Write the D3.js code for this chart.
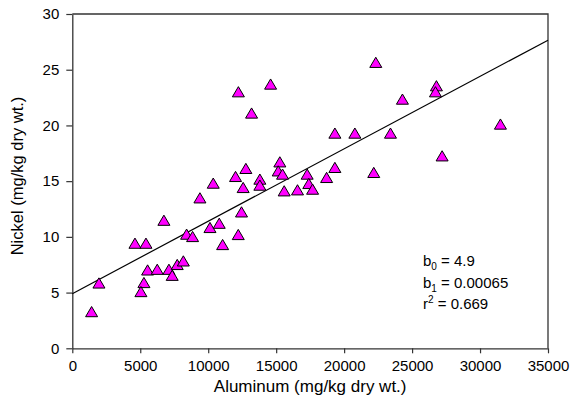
<!DOCTYPE html>
<html>
<head>
<meta charset="utf-8">
<script src="https://cdn.jsdelivr.net/npm/d3@7"></script>
<style>
  html, body { margin: 0; padding: 0; background: #fff; }
  svg { display: block; font-family: "Liberation Sans", Arial, sans-serif; }
</style>
</head>
<body>
<svg id="chart" width="578" height="417"></svg>
<script>
// Data (Aluminum vs Nickel, mg/kg dry wt.)
const aluminum = [
  12220, 14590, 13190, 15270, 12770, 12010, 13800, 15150, 15470, 10370,
  12570, 13800, 15590, 16570, 17280, 17400, 17680, 9390,
  22330, 26790, 26720, 24290, 31500, 19320, 20790, 23410, 27210, 19320,
  18710, 22180,
  6740, 12450, 10130, 10810, 8410, 8850, 11060, 12210, 4610, 5420,
  5540, 6250, 7110, 7350, 7720, 8170, 5270, 5050, 1960, 1420
];
const nickel = [
  22.96, 23.65, 21.05, 16.67, 16.08, 15.36, 15.12, 15.86, 15.57, 14.76,
  14.37, 14.58, 14.07, 14.16, 15.57, 14.73, 14.22, 13.44,
  25.6, 23.5, 22.96, 22.3, 20.06, 19.25, 19.25, 19.25, 17.21, 16.17,
  15.27, 15.72,
  11.43, 12.18, 10.78, 11.16, 10.18, 9.97, 9.25, 10.15, 9.37, 9.37,
  6.97, 7.03, 7.03, 6.49, 7.46, 7.78, 5.84, 5.03, 5.8, 3.23
];
const xTicks = [0, 5000, 10000, 15000, 20000, 25000, 30000, 35000];
const yTicks = [0, 5, 10, 15, 20, 25, 30];
const b0 = 4.9;
const b1 = 0.00065;
const r2 = 0.669;
const xTitle = "Aluminum (mg/kg dry wt.)";
const yTitle = "Nickel (mg/kg dry wt.)";

const svg = d3.select("#chart");
const pL = 72.3, pR = 548, pT = 14, pB = 348.3;

const x = d3.scaleLinear().domain([0, 35000]).range([pL, pR]);
const y = d3.scaleLinear().domain([0, 30]).range([pB, pT]);

// frame (top and right borders)
svg.append("path")
  .attr("d", `M${pL},${pT}H${pR}V${pB}`)
  .attr("fill", "none").attr("stroke", "#333").attr("stroke-width", 1.3);

// axes
const xAxis = svg.append("g")
  .attr("transform", `translate(0,${pB})`)
  .call(d3.axisBottom(x).tickValues(xTicks).tickFormat(d3.format("d")).tickSizeInner(5).tickSizeOuter(0).tickPadding(7));
const yAxis = svg.append("g")
  .attr("transform", `translate(${pL},0)`)
  .call(d3.axisLeft(y).tickValues(yTicks).tickFormat(d3.format("d")).tickSizeInner(6).tickSizeOuter(0).tickPadding(7));

[xAxis, yAxis].forEach(g => {
  g.select(".domain").attr("stroke", "#333").attr("stroke-width", 1.3);
  g.selectAll(".tick line").attr("stroke", "#333").attr("stroke-width", 1.2);
  g.selectAll(".tick text").attr("fill", "#000").style("font-size", "15px")
    .style("font-family", "'Liberation Sans', Arial, sans-serif");
});

// regression line
svg.append("line")
  .attr("x1", x(0)).attr("y1", y(b0))
  .attr("x2", x(35000)).attr("y2", y(b0 + b1 * 35000))
  .attr("stroke", "#000").attr("stroke-width", 1.2);

// points
const tri = "M0,-5.8L6,4.4L-6,4.4Z";
svg.append("g").selectAll("path")
  .data(aluminum.map((a, i) => [a, nickel[i]]))
  .join("path")
  .attr("d", tri)
  .attr("transform", d => `translate(${x(d[0])},${y(d[1])})`)
  .attr("fill", "#ff00ff")
  .attr("stroke", "#000")
  .attr("stroke-width", 1);

// axis titles
svg.append("text")
  .attr("x", (pL + pR) / 2).attr("y", 392)
  .attr("text-anchor", "middle").style("font-size", "17px")
  .text(xTitle);
svg.append("text")
  .attr("transform", `translate(23,176) rotate(-90)`)
  .attr("text-anchor", "middle").style("font-size", "16.5px")
  .text(yTitle);

// annotation
const ann = svg.append("g").style("font-size", "15px");
const lines = [
  { base: "b", sub: "0", sup: null, rest: " = " + b0 },
  { base: "b", sub: "1", sup: null, rest: " = " + b1.toFixed(5) },
  { base: "r", sub: null, sup: "2", rest: " = " + r2 }
];
lines.forEach((l, i) => {
  const t = ann.append("text").attr("x", 423).attr("y", 266 + i * 21.5);
  t.append("tspan").text(l.base);
  if (l.sub) t.append("tspan").attr("dy", 4).style("font-size", "10px").text(l.sub);
  if (l.sup) t.append("tspan").attr("dy", -6).style("font-size", "10px").text(l.sup);
  t.append("tspan").attr("dy", l.sub ? -4 : (l.sup ? 6 : 0)).text(l.rest);
});
</script>
</body>
</html>
